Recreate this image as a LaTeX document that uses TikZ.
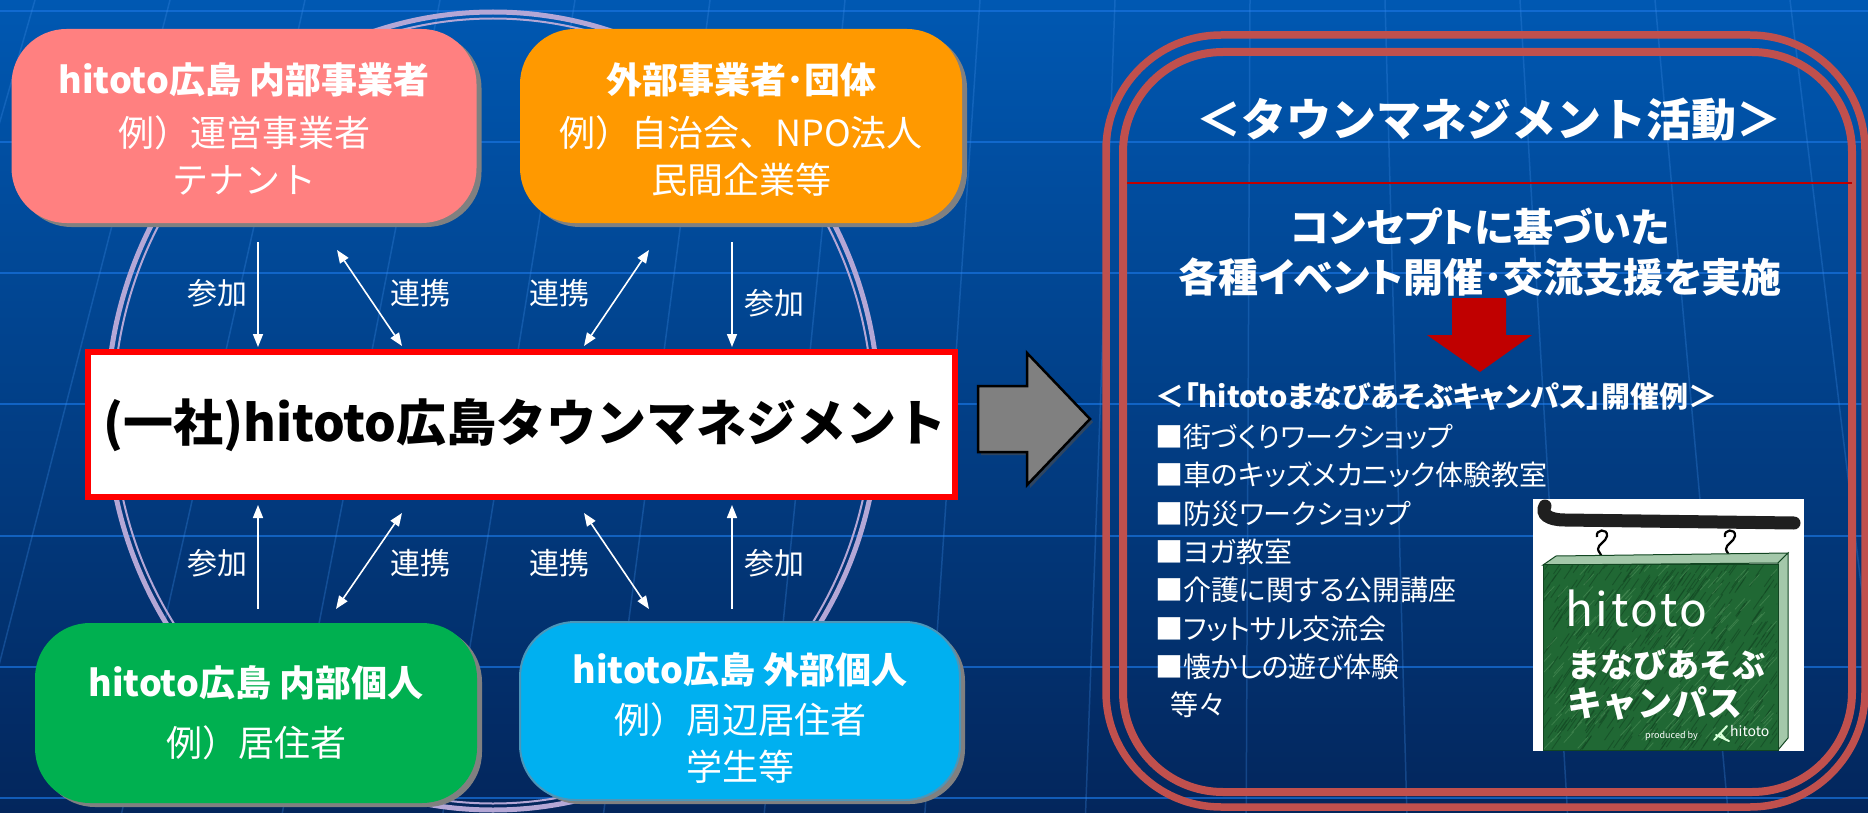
\documentclass[tikz,border=0pt]{standalone}
\usepackage{fontspec}
\setmainfont{Noto Sans CJK JP}
\newfontfamily\jpprop[RawFeature=+palt]{Noto Sans CJK JP}
\usetikzlibrary{arrows.meta,shadows}

\definecolor{bgtop}{RGB}{0,88,178}
\definecolor{bgbot}{RGB}{3,38,92}
\definecolor{gridh}{RGB}{25,115,222}
\definecolor{gridv}{RGB}{60,140,230}
\definecolor{ringc}{RGB}{180,167,214}
\definecolor{pinkbox}{RGB}{255,128,128}
\definecolor{orangebox}{RGB}{255,153,0}
\definecolor{greenbox}{RGB}{0,176,80}
\definecolor{cyanbox}{RGB}{0,176,240}
\definecolor{cyanedge}{RGB}{75,150,185}
\definecolor{framered}{RGB}{192,80,77}
\definecolor{darkred}{RGB}{192,0,0}
\definecolor{signgreen}{RGB}{32,104,52}
\definecolor{signdark}{RGB}{18,70,34}
\definecolor{signlight}{RGB}{90,155,100}

\newcommand\fsz[2]{\fontsize{#1}{#2}\selectfont}

\begin{document}
\begin{tikzpicture}[x=1pt,y=-1pt,
  groupbox/.style={rounded corners=55pt, inner sep=0pt,
    drop shadow={shadow xshift=5pt, shadow yshift=-4pt, fill=black!50, opacity=1}},
  boxhead/.style={text=white, font=\fsz{36}{43}\bfseries, inner sep=0pt},
  boxline/.style={text=white, font=\fsz{36}{43}, inner sep=0pt},
  linklabel/.style={text=white, font=\fsz{30}{36}, inner sep=0pt},
  flow/.style={white, line width=1.6pt},
  onetip/.style={flow, -{Triangle[length=13pt,width=10pt]}},
  twotip/.style={flow, {Triangle[length=13pt,width=10pt]}-{Triangle[length=13pt,width=10pt]}},
  listitem/.style={text=white, font=\jpprop\fsz{28}{33}, inner sep=0pt, anchor=west},
  panelhead/.style={text=white, font=\jpprop\fsz{40}{48}\bfseries, inner sep=0pt},
  signtext/.style={text=white, inner sep=0pt, anchor=west}
]
\useasboundingbox (0,0) rectangle (1868,813);

% background
\shade[top color=bgtop, bottom color=bgbot] (0,0) rectangle (1868,813);
\foreach \yy in {11,142,273,404,536,667,798}
  \draw[gridh, line width=2.5pt, opacity=0.7] (0,\yy) -- (1868,\yy);
\foreach \xx in {35,170,305,440,575,710,845,980,1115,1250,1385,1520,1655,1790}
  \draw[gridv, line width=1.5pt, opacity=0.3] (\xx,0) -- ({\xx+0.19*(\xx-1270)},813);

% ring behind the partner boxes
\draw[ringc, line width=5pt] (493,411) ellipse [x radius=386, y radius=399];
\draw[ringc, line width=2pt] (493,411) ellipse [x radius=379.5, y radius=392.5];

% partner boxes
\node[groupbox, fill=pinkbox, minimum width=465pt, minimum height=194pt] (inbiz) at (244,126) {};
\node[groupbox, fill=orangebox, minimum width=442pt, minimum height=194pt] (outbiz) at (741,126) {};
\node[groupbox, fill=greenbox, minimum width=442pt, minimum height=180pt] (inper) at (256,713) {};
\node[groupbox, fill=cyanbox, draw=cyanedge, line width=2pt, minimum width=440pt, minimum height=178pt] (outper) at (740,711) {};

\node[boxhead] (inbizA) at (244,80) {hitoto広島 内部事業者};
\node[boxline] (inbizB) at (244,133) {例）運営事業者};
\node[boxline] (inbizC) at (244,180) {テナント};

\node[boxhead] (outbizA) at (741,80) {外部事業者･団体};
\node[boxline] (outbizB) at (741,133) {例）自治会、NPO法人};
\node[boxline] (outbizC) at (741,180) {民間企業等};

\node[boxhead] (inperA) at (256,683) {hitoto広島 内部個人};
\node[boxline] (inperB) at (256,743) {例）居住者};

\node[boxhead] (outperA) at (740,670) {hitoto広島 外部個人};
\node[boxline] (outperB) at (740,720) {例）周辺居住者};
\node[boxline] (outperC) at (740,767) {学生等};

% central organisation
\node[draw=red, fill=white, line width=6pt, minimum width=867pt, minimum height=145pt, inner sep=0pt] (org) at (521.5,424.5) {};
\node[text=black, font=\fsz{50}{60}\bfseries, inner sep=0pt] (orgname) at (525,425) {(一社)hitoto広島タウンマネジメント};

% arrow end points
\coordinate (pA1) at (258,242); \coordinate (pA2) at (258,347);
\coordinate (pB1) at (337,250); \coordinate (pB2) at (402,346);
\coordinate (pC1) at (649,250); \coordinate (pC2) at (584,346);
\coordinate (pD1) at (732,242); \coordinate (pD2) at (732,347);
\coordinate (qA1) at (258,609); \coordinate (qA2) at (258,505);
\coordinate (qB1) at (336,609); \coordinate (qB2) at (402,513);
\coordinate (qC1) at (649,609); \coordinate (qC2) at (584,513);
\coordinate (qD1) at (732,609); \coordinate (qD2) at (732,505);

\draw[onetip] (pA1) -- (pA2);
\draw[twotip] (pB1) -- (pB2);
\draw[twotip] (pC1) -- (pC2);
\draw[onetip] (pD1) -- (pD2);
\draw[onetip] (qA1) -- (qA2);
\draw[twotip] (qB1) -- (qB2);
\draw[twotip] (qC1) -- (qC2);
\draw[onetip] (qD1) -- (qD2);

\node[linklabel] (lA) at (217,293) {参加};
\node[linklabel] (lB) at (420,293) {連携};
\node[linklabel] (lC) at (559,293) {連携};
\node[linklabel] (lD) at (774,303) {参加};
\node[linklabel] (mA) at (217,563) {参加};
\node[linklabel] (mB) at (420,563) {連携};
\node[linklabel] (mC) at (559,563) {連携};
\node[linklabel] (mD) at (774,563) {参加};

% block arrow towards the activity panel
\fill[black!70, opacity=0.6] (981,389) -- (1030,389) -- (1030,356) -- (1093,422) -- (1030,488) -- (1030,455) -- (981,455) -- cycle;
\draw[fill=gray, draw=black, line width=2.5pt, line join=miter]
  (978,386) -- (1027,386) -- (1027,353) -- (1090,419) -- (1027,485) -- (1027,452) -- (978,452) -- cycle;

% activity panel frame
\draw[framered, line width=7.5pt, rounded corners=115pt] (1106,35) rectangle (1865,807);
\draw[framered, line width=8pt, rounded corners=100pt] (1123,52) rectangle (1852,792);
\draw[darkred, line width=2.5pt] (1127,183) -- (1852,183);

\node[text=white, font=\fsz{45}{54}\bfseries, inner sep=0pt] (acttitle) at (1489,120) {＜タウンマネジメント活動＞};
\node[panelhead] (actA) at (1480,227) {コンセプトに基づいた};
\node[panelhead] (actB) at (1480,277) {各種イベント開催･交流支援を実施};

\fill[darkred] (1452,298) -- (1506,298) -- (1506,335) -- (1532,335) -- (1480,372) -- (1427,335) -- (1452,335) -- cycle;

\node[text=white, font=\jpprop\fsz{29}{35}\bfseries, inner sep=0pt, anchor=west] (exhead) at (1155,397) {＜「hitotoまなびあそぶキャンパス」開催例＞};
\node[listitem] (ex1) at (1155,437) {■街づくりワークショップ};
\node[listitem] (ex2) at (1155,475) {■車のキッズメカニック体験教室};
\node[listitem] (ex3) at (1155,514) {■防災ワークショップ};
\node[listitem] (ex4) at (1155,552) {■ヨガ教室};
\node[listitem] (ex5) at (1155,590) {■介護に関する公開講座};
\node[listitem] (ex6) at (1155,629) {■フットサル交流会};
\node[listitem] (ex7) at (1155,667) {■懐かしの遊び体験};
\node[listitem] (ex8) at (1170,705) {等々};

% hanging sign
\fill[white] (1533,499) rectangle (1804,751);
\draw[black!88, line width=13pt, line cap=round]
  (1794,523) -- (1565,520) .. controls (1548,520) and (1541,514) .. (1545,506);
\foreach \hx in {1602,1730} {
  \draw[black, line width=2.2pt]
    (\hx-5,537) .. controls (\hx-7,529) and (\hx+6,528) .. (\hx+5,536)
    .. controls (\hx+4,542) and (\hx-4,544) .. (\hx-4,549)
    .. controls (\hx-4,552) and (\hx,554) .. (\hx,559);
}
\fill[signlight!55!white, draw=signdark, line width=1pt] (1543,565) -- (1556,556) -- (1788,553) -- (1778,563) -- cycle;
\fill[signlight!55!white, draw=signdark, line width=1pt] (1778,563) -- (1788,553) -- (1788,738) -- (1778,750) -- cycle;
\fill[signgreen, draw=signdark, line width=1pt] (1543,564) rectangle (1778,750);
\begin{scope}
  \clip (1544,565) rectangle (1777,749);
  \pgfmathsetseed{7}
  \foreach \i in {1,...,420} {
    \pgfmathsetmacro\px{1540+rnd*240}
    \pgfmathsetmacro\py{560+rnd*195}
    \draw[signdark, line width=0.9pt, opacity=0.6] (\px,\py) -- ++(9,-13);
  }
  \foreach \i in {1,...,200} {
    \pgfmathsetmacro\px{1540+rnd*240}
    \pgfmathsetmacro\py{560+rnd*195}
    \draw[signlight, line width=0.8pt, opacity=0.45] (\px,\py) -- ++(10,-11);
  }
\end{scope}
\node[signtext, font=\fsz{46}{52}\addfontfeature{LetterSpace=6}] (sgA) at (1565,608) {hitoto};
\node[signtext, font=\fsz{33}{38}\bfseries] (sgB) at (1567,665) {まなびあそぶ};
\node[signtext, font=\fsz{35}{40}\bfseries] (sgC) at (1567,703) {キャンパス};
\node[signtext, font=\fsz{9}{11}] (sgD) at (1645,736) {produced by};
\draw[white!85!green, line width=2pt, line cap=round] (1714,740) -- (1727,726) (1716,735) -- (1729,741) (1720,733) -- (1726,740);
\node[signtext, font=\fsz{14}{17}] (sgE) at (1730,731) {hitoto};
\end{tikzpicture}
\end{document}
